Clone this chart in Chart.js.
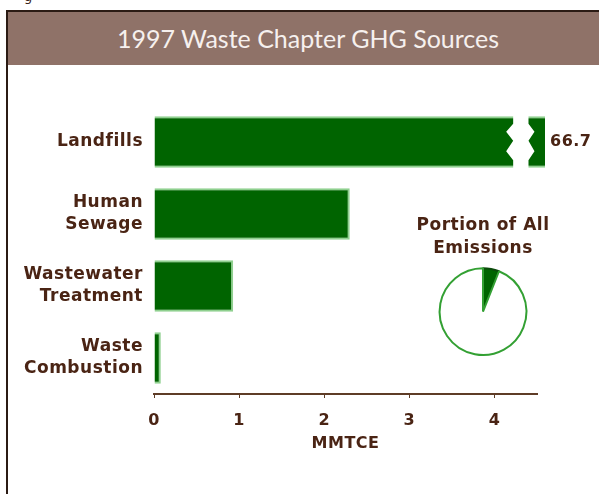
<!DOCTYPE html>
<html>
<head>
<meta charset="utf-8">
<script src="https://cdn.jsdelivr.net/npm/chart.js@4.4.1/dist/chart.umd.min.js"></script>
<style>
  html, body { margin: 0; padding: 0; background: #fff; overflow: hidden; }
  body { width: 599px; height: 494px; position: relative; }
  #cut { position: absolute; left: 24px; top: -11px; font: 13px 'DejaVu Sans'; color: #3a2418; }
  #frame { position: absolute; left: 6px; top: 10px; width: 620px; height: 520px;
           border-top: 2px solid #2b1b14; border-left: 2px solid #2b1b14; }
  #head { position: absolute; left: 8px; top: 12px; width: 600px; height: 53px;
          background: #8f7268; color: #f6f0ee; font: 25px Lato, sans-serif;
          text-align: center; line-height: 53px; }
  #bars { position: absolute; left: 8px; top: 66px; }
  #share { position: absolute; left: 393px; top: 212px; }
</style>
</head>
<body>
<div id="cut">g</div>
<div id="frame"></div>
<div id="head">1997 Waste Chapter GHG Sources</div>
<canvas id="bars" width="591" height="428"></canvas>
<canvas id="share" width="180" height="150"></canvas>
<script>
// MMTCE by source, 1997
const sources = [['Landfills'], ['Human', 'Sewage'], ['Wastewater', 'Treatment'], ['Waste', 'Combustion']];
const emissions = [66.7, 2.3, 0.93, 0.08];
const axisTicks = [0, 1, 2, 3, 4];
const axisMax = 4.5;
// where the landfill bar is cut
const breakFrom = 4.22;
const breakTo = 4.4;
// waste share of all emissions (%)
const shareLabels = ['Waste', 'Other'];
const shareValues = [6, 94];

const ink = '#4a2414';
const dark = '#006400';
const edge = '#8fd08f';
const face = 'DejaVu Sans';

const spacing = {
  id: 'spacing',
  beforeUpdate(chart) { chart.ctx.letterSpacing = '0.5px'; },
  beforeDraw(chart) { chart.ctx.letterSpacing = '0.5px'; }
};

const barBreak = {
  id: 'barBreak',
  afterDatasetsDraw(chart) {
    const ctx = chart.ctx;
    const bar = chart.getDatasetMeta(0).data[0];
    const xs = chart.scales.x;
    const a = xs.getPixelForValue(breakFrom);
    const b = xs.getPixelForValue(breakTo);
    const top = bar.y - bar.height / 2 - 3;
    const bot = bar.y + bar.height / 2 + 3;
    const h = bot - top;
    ctx.save();
    ctx.fillStyle = '#fff';
    ctx.beginPath();
    ctx.moveTo(a, top);
    ctx.lineTo(a, top + h * 0.18);
    ctx.lineTo(a - 7, top + h * 0.32);
    ctx.lineTo(a, top + h * 0.48);
    ctx.lineTo(a - 7, top + h * 0.66);
    ctx.lineTo(a, top + h * 0.82);
    ctx.lineTo(a, bot);
    ctx.lineTo(b, bot);
    ctx.lineTo(b, top + h * 0.82);
    ctx.lineTo(b + 6, top + h * 0.66);
    ctx.lineTo(b, top + h * 0.48);
    ctx.lineTo(b + 6, top + h * 0.32);
    ctx.lineTo(b, top + h * 0.18);
    ctx.lineTo(b, top);
    ctx.closePath();
    ctx.fill();
    // value at the end of the cut bar
    ctx.fillStyle = ink;
    ctx.font = 'bold 16px ' + face;
    ctx.textAlign = 'left';
    ctx.textBaseline = 'middle';
    ctx.fillText(String(emissions[0]), chart.chartArea.right + 13, bar.y);
    ctx.restore();
  }
};

new Chart(document.getElementById('bars'), {
  type: 'bar',
  data: {
    labels: sources,
    datasets: [{
      data: emissions,
      backgroundColor: dark,
      borderColor: edge,
      borderWidth: 2,
      barPercentage: 0.8,
      categoryPercentage: 0.89,
      clip: { left: 5, top: 5, right: 8, bottom: 5 }
    }]
  },
  options: {
    indexAxis: 'y',
    responsive: false,
    animation: false,
    layout: { padding: { top: 40, right: 62, bottom: 0, left: 0 } },
    plugins: {
      legend: { display: false },
      tooltip: { enabled: false }
    },
    scales: {
      x: {
        min: 0,
        max: axisMax,
        border: { display: true, color: '#5e3c26', width: 2 },
        grid: { drawOnChartArea: false, drawTicks: true, tickLength: 4, color: '#5e3c26' },
        ticks: {
          stepSize: 1,
          includeBounds: false,
          padding: 13,
          color: ink,
          font: { family: face, size: 16, weight: 'bold' },
          callback: (v) => axisTicks.includes(v) ? String(v) : ''
        },
        title: {
          display: true,
          text: 'MMTCE',
          color: ink,
          font: { family: face, size: 16, weight: 'bold' },
          padding: { top: 0, bottom: 41 }
        },
        afterFit(scale) { scale.height = 100; }
      },
      y: {
        border: { display: false },
        grid: { display: false },
        ticks: {
          padding: 3,
          color: ink,
          font: { family: face, size: 17, weight: 'bold', lineHeight: 1.3 }
        },
        afterFit(scale) { scale.width = 146; }
      }
    }
  },
  plugins: [spacing, barBreak]
});

new Chart(document.getElementById('share'), {
  type: 'pie',
  data: {
    labels: shareLabels,
    datasets: [{
      data: shareValues,
      backgroundColor: [dark, '#ffffff'],
      borderColor: ['#0b4a0b', '#33a033'],
      borderWidth: 2
    }]
  },
  options: {
    responsive: false,
    animation: false,
    layout: { padding: { bottom: 6 } },
    plugins: {
      legend: { display: false },
      tooltip: { enabled: false },
      title: {
        display: true,
        text: ['Portion of All', 'Emissions'],
        color: ink,
        font: { family: face, size: 17, weight: 'bold', lineHeight: 1.3 },
        padding: { top: 3, bottom: 8 }
      }
    }
  },
  plugins: [spacing]
});
</script>
</body>
</html>
